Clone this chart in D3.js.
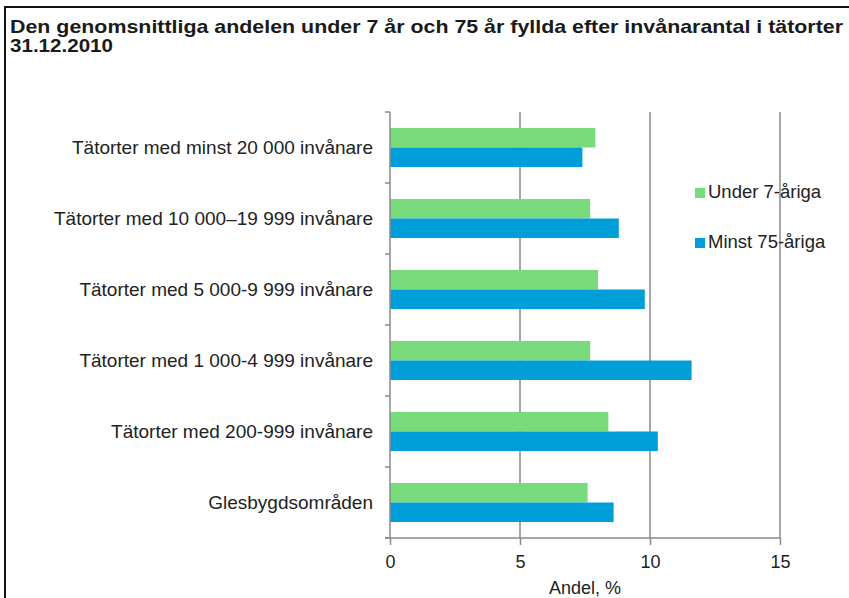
<!DOCTYPE html>
<html>
<head>
<meta charset="utf-8">
<script src="https://cdn.jsdelivr.net/npm/d3@7"></script>
<style>
    body { margin: 0; background: #fff; }
    svg text { font-family: "Liberation Sans", Arial, sans-serif; }
</style>
</head>
<body>
<svg id="chart"></svg>
<script>
// data
var categories = [
    "Tätorter med minst 20 000 invånare",
    "Tätorter med 10 000–19 999 invånare",
    "Tätorter med 5 000-9 999 invånare",
    "Tätorter med 1  000-4 999 invånare",
    "Tätorter med 200-999 invånare",
    "Glesbygdsområden"
];
var seriesNames = ["Under 7-åriga", "Minst 75-åriga"];
var under7 = [7.9, 7.7, 8.0, 7.7, 8.4, 7.6];
var over75 = [7.4, 8.8, 9.8, 11.6, 10.3, 8.6];
var xTicks = [0, 5, 10, 15];
var colors = ["#78dc7d", "#009ed9"];

var width = 849, height = 598;
var margin = { top: 112, left: 390, right: 69, bottom: 60 };

var svg = d3.select('#chart')
    .attr("width", width)
    .attr("height", height);

// frame round the chart
svg.append("rect")
    .attr("x", 5).attr("y", 7)
    .attr("width", 860).attr("height", 620)
    .attr("fill", "none")
    .attr("stroke", "#111")
    .attr("stroke-width", 2);

// title
var title = svg.append("text")
    .attr("fill", "#1a1a1a")
    .attr("font-weight", "bold")
    .attr("font-size", "19px");
title.append("tspan").attr("x", 10).attr("y", 33)
    .attr("textLength", 833).attr("lengthAdjust", "spacingAndGlyphs")
    .text("Den genomsnittliga andelen under 7 år och 75 år fyllda efter invånarantal i tätorter");
title.append("tspan").attr("x", 10).attr("y", 52)
    .attr("textLength", 103).attr("lengthAdjust", "spacingAndGlyphs")
    .text("31.12.2010");

var plotW = 780 - margin.left;
var plotH = 538 - margin.top;

var xScale = d3.scaleLinear().domain([0, 15]).range([0, plotW]);
var yScale = d3.scaleBand()
    .domain(categories)
    .range([0, plotH])
    .paddingInner(0.45)
    .paddingOuter(0.225);
var subScale = d3.scaleBand()
    .domain([0, 1])
    .range([0, yScale.bandwidth()]);

var g = svg.append("g").attr("transform", "translate(" + margin.left + "," + margin.top + ")");

// vertical grid lines
g.append("g")
    .selectAll("line")
    .data(xTicks.slice(1))
    .enter()
    .append("line")
    .attr("x1", function (d) { return xScale(d); })
    .attr("x2", function (d) { return xScale(d); })
    .attr("y1", 0)
    .attr("y2", plotH)
    .attr("stroke", "#8a8a8a")
    .attr("stroke-width", 1.5);

// bars
var series = [under7, over75];
series.forEach(function (values, s) {
    g.append("g")
        .selectAll("rect")
        .data(values)
        .enter()
        .append("rect")
        .attr("x", 0)
        .attr("y", function (d, i) { return yScale(categories[i]) + subScale(s); })
        .attr("width", function (d) { return xScale(d); })
        .attr("height", subScale.bandwidth())
        .attr("fill", colors[s]);
});

// y axis line and the marks between categories
var step = yScale.step();
var boundaries = d3.range(categories.length + 1).map(function (i) { return i * step; });
g.append("line")
    .attr("x1", 0).attr("x2", 0)
    .attr("y1", 0).attr("y2", plotH)
    .attr("stroke", "#8a8a8a").attr("stroke-width", 1.5);
g.append("g")
    .selectAll("line")
    .data(boundaries)
    .enter()
    .append("line")
    .attr("x1", -5).attr("x2", 0)
    .attr("y1", function (d) { return d; })
    .attr("y2", function (d) { return d; })
    .attr("stroke", "#8a8a8a").attr("stroke-width", 1.5);

// category labels
var yAxis = g.append("g")
    .call(d3.axisLeft(yScale).tickSize(0).tickPadding(17));
yAxis.select(".domain").remove();
yAxis.selectAll("text")
    .attr("font-family", "Liberation Sans, Arial, sans-serif")
    .attr("font-size", "19px")
    .attr("fill", "#222")
    .attr("dy", "0.34em");

// x axis
var xAxis = g.append("g")
    .attr("transform", "translate(0," + plotH + ")")
    .call(d3.axisBottom(xScale).tickValues(xTicks).tickSize(7).tickPadding(10).tickSizeOuter(0));
xAxis.select(".domain")
    .attr("d", "M-5,0H" + plotW)
    .attr("stroke", "#8a8a8a").attr("stroke-width", 1.5);
xAxis.selectAll(".tick line").attr("stroke", "#8a8a8a").attr("stroke-width", 1.5);
xAxis.selectAll("text")
    .attr("font-family", "Liberation Sans, Arial, sans-serif")
    .attr("font-size", "18px")
    .attr("fill", "#222");

// x label
svg.append("text")
    .text("Andel, %")
    .attr("x", 585)
    .attr("y", 594)
    .attr("text-anchor", "middle")
    .attr("font-size", "18px")
    .attr("fill", "#222");

// legend
var legend = svg.append("g")
    .selectAll("g")
    .data(seriesNames)
    .enter()
    .append("g")
    .attr("transform", function (d, i) { return "translate(695," + (188 + i * 50) + ")"; });
legend.append("rect")
    .attr("width", 10).attr("height", 10)
    .attr("fill", function (d, i) { return colors[i]; });
legend.append("text")
    .text(function (d) { return d; })
    .attr("x", 13)
    .attr("y", 10)
    .attr("font-size", "18.5px")
    .attr("fill", "#222");
</script>
</body>
</html>
